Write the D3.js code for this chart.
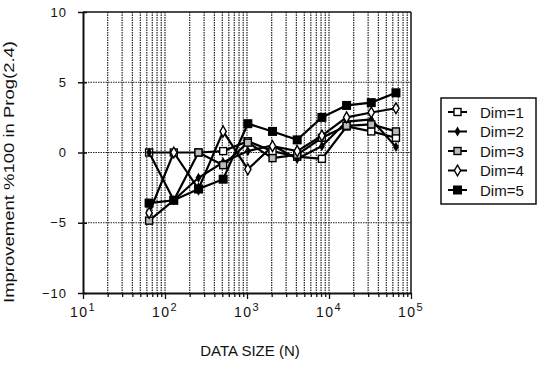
<!DOCTYPE html>
<html lang="en">
  <head>
    <meta charset="utf-8">
    <title>Improvement vs data size</title>
    <script src="https://d3js.org/d3.v7.min.js"></script>
    <style>
      body { margin: 0; background: #fff; }
      text { font-family: "Liberation Sans", Arial, sans-serif; fill: #111; }
    </style>
  </head>
  <body>
    <script>
      // data
      const sizes = [64, 128, 256, 512, 1024, 2048, 4096, 8192, 16384, 32768, 65536]
      const dim1 = [0, 0, 0, 0.1, 0.8, 0.1, -0.3, -0.45, 1.85, 1.5, 1.05]
      const dim2 = [0, -3.4, -1.8, -0.7, 0.1, 0.5, -0.45, 0.45, 2.2, 2.35, 0.4]
      const dim3 = [-4.85, -3.4, 0, -0.9, 0.7, -0.4, -0.15, 1.05, 1.9, 2.0, 1.5]
      const dim4 = [-4.3, 0, -2.6, 1.5, -1.2, 0.45, 0.1, 1.2, 2.5, 2.85, 3.15]
      const dim5 = [-3.6, -3.4, -2.6, -1.9, 2.05, 1.5, 0.9, 2.5, 3.35, 3.55, 4.25]
      const seriesNames = ['Dim=1', 'Dim=2', 'Dim=3', 'Dim=4', 'Dim=5']
      const yTicks = [-10, -5, 0, 5, 10]
      const xMajor = [10, 100, 1000, 10000, 100000]
      const xExp = ['1', '2', '3', '4', '5']

      const w = 544
      const h = 366
      const padL = 83, padR = 411, padT = 12, padB = 293

      const svg = d3.select('body').append('svg')
        .attr('width', w)
        .attr('height', h)

      const x = d3.scaleLog().domain([10, 100000]).range([padL, padR])
      const y = d3.scaleLinear().domain([-10, 10]).range([padB, padT])

      // minor tick positions 10..100000
      let minor = []
      for (let k = 10; k < 100000; k *= 10) {
        for (let m = 1; m < 10; m++) minor.push(k * m)
      }
      minor.push(100000)

      // vertical grid (dotted)
      svg.append('g').selectAll('line')
        .data(minor.filter(d => d > 10 && d < 100000))
        .enter().append('line')
        .attr('x1', d => x(d)).attr('x2', d => x(d))
        .attr('y1', padT).attr('y2', padB)
        .attr('stroke', '#222')
        .attr('stroke-width', 1.2)
        .attr('stroke-dasharray', '1.5,1')

      // horizontal grid
      svg.append('g').selectAll('line')
        .data([-5, 0, 5])
        .enter().append('line')
        .attr('x1', padL).attr('x2', padR)
        .attr('y1', d => y(d)).attr('y2', d => y(d))
        .attr('stroke', '#222')
        .attr('stroke-width', 1.2)
        .attr('stroke-dasharray', '1.5,1')

      // frame top / right
      svg.append('line').attr('x1', padL).attr('x2', padR).attr('y1', padT).attr('y2', padT)
        .attr('stroke', '#111').attr('stroke-width', 1.5)
      svg.append('line').attr('x1', padR).attr('x2', padR).attr('y1', padT).attr('y2', padB)
        .attr('stroke', '#111').attr('stroke-width', 1.5)

      // x axis
      const xAxis = d3.axisBottom(x)
        .tickValues(minor)
        .tickFormat('')
        .tickSize(4)
        .tickSizeOuter(0)
      const gx = svg.append('g')
        .attr('transform', 'translate(0,' + padB + ')')
        .call(xAxis)
      gx.select('.domain').attr('stroke', '#111').attr('stroke-width', 2)
      gx.selectAll('.tick line').attr('stroke', '#111').attr('stroke-width', 1.3)
        .attr('y2', d => xMajor.includes(d) ? 6 : 4)

      // x tick labels 10^k
      const xl = svg.append('g').selectAll('text')
        .data(xMajor)
        .enter().append('text')
        .attr('x', d => x(d))
        .attr('y', 317)
        .attr('text-anchor', 'middle')
        .style('font-size', '14px')
        .style('letter-spacing', '1.5px')
      xl.append('tspan').text('10')
      xl.append('tspan').text((d, i) => xExp[i])
        .attr('dy', -6)
        .style('font-size', '11px')

      // y axis
      const yAxis = d3.axisLeft(y)
        .tickValues(yTicks)
        .tickSize(5)
        .tickSizeOuter(0)
        .tickPadding(11)
      const gy = svg.append('g')
        .attr('transform', 'translate(' + padL + ',0)')
        .call(yAxis)
      gy.select('.domain').attr('stroke', '#111').attr('stroke-width', 2)
      gy.selectAll('.tick line').attr('stroke', '#111').attr('stroke-width', 1.5).attr('x2', 4).attr('x1', -5)
      gy.selectAll('.tick text')
        .style('font-size', '13px')
        .style('letter-spacing', '1px')
        .style('font-family', '"Liberation Sans", Arial, sans-serif')
        .attr('fill', '#111')

      // axis titles
      svg.append('text')
        .attr('x', 250).attr('y', 356)
        .attr('text-anchor', 'middle')
        .style('font-size', '15px')
        .text('DATA SIZE (N)')
      svg.append('text')
        .attr('transform', 'translate(14,172) rotate(-90)')
        .attr('text-anchor', 'middle')
        .attr('textLength', 262)
        .attr('lengthAdjust', 'spacingAndGlyphs')
        .style('font-size', '15.5px')
        .text('Improvement %100 in Prog(2.4)')

      // series
      const allSeries = [dim1, dim2, dim3, dim4, dim5]
      const line = d3.line()
        .x((d, i) => x(sizes[i]))
        .y(d => y(d))

      svg.append('g').selectAll('path')
        .data(allSeries)
        .enter().append('path')
        .attr('d', d => line(d))
        .attr('fill', 'none')
        .attr('stroke', '#000')
        .attr('stroke-width', 2.2)

      function drawMarker(g, k, cx, cy) {
        if (k === 0) {
          g.append('rect').attr('x', cx - 3.5).attr('y', cy - 3.5).attr('width', 7).attr('height', 7)
            .attr('fill', '#fff').attr('stroke', '#000').attr('stroke-width', 1.4)
        } else if (k === 1) {
          g.append('path').attr('d', d3.symbol(d3.symbolDiamond, 30)())
            .attr('transform', 'translate(' + cx + ',' + cy + ')')
            .attr('fill', '#000')
        } else if (k === 2) {
          g.append('rect').attr('x', cx - 3.5).attr('y', cy - 3.5).attr('width', 7).attr('height', 7)
            .attr('fill', '#bbb').attr('stroke', '#000').attr('stroke-width', 1.4)
        } else if (k === 3) {
          g.append('path').attr('d', d3.symbol(d3.symbolDiamond, 34)())
            .attr('transform', 'translate(' + cx + ',' + cy + ')')
            .attr('fill', '#fff').attr('stroke', '#000').attr('stroke-width', 1.4)
        } else {
          g.append('rect').attr('x', cx - 4.5).attr('y', cy - 4.5).attr('width', 9).attr('height', 9)
            .attr('fill', '#000')
        }
      }

      const marks = svg.append('g')
      allSeries.forEach((s, k) => {
        s.forEach((v, i) => drawMarker(marks, k, x(sizes[i]), y(v)))
      })

      // legend
      const lg = svg.append('g')
      lg.append('rect')
        .attr('x', 441).attr('y', 98).attr('width', 95).attr('height', 106)
        .attr('fill', '#fff').attr('stroke', '#111').attr('stroke-width', 1.5)
      seriesNames.forEach((name, k) => {
        const cy = 112 + k * 19.5
        lg.append('line').attr('x1', 448).attr('x2', 467).attr('y1', cy).attr('y2', cy)
          .attr('stroke', '#000').attr('stroke-width', 2)
        drawMarker(lg, k, 457.5, cy)
        lg.append('text')
          .attr('x', 480).attr('y', cy + 5.5)
          .style('font-size', '15px')
          .text(name)
      })
    </script>
  </body>
</html>
